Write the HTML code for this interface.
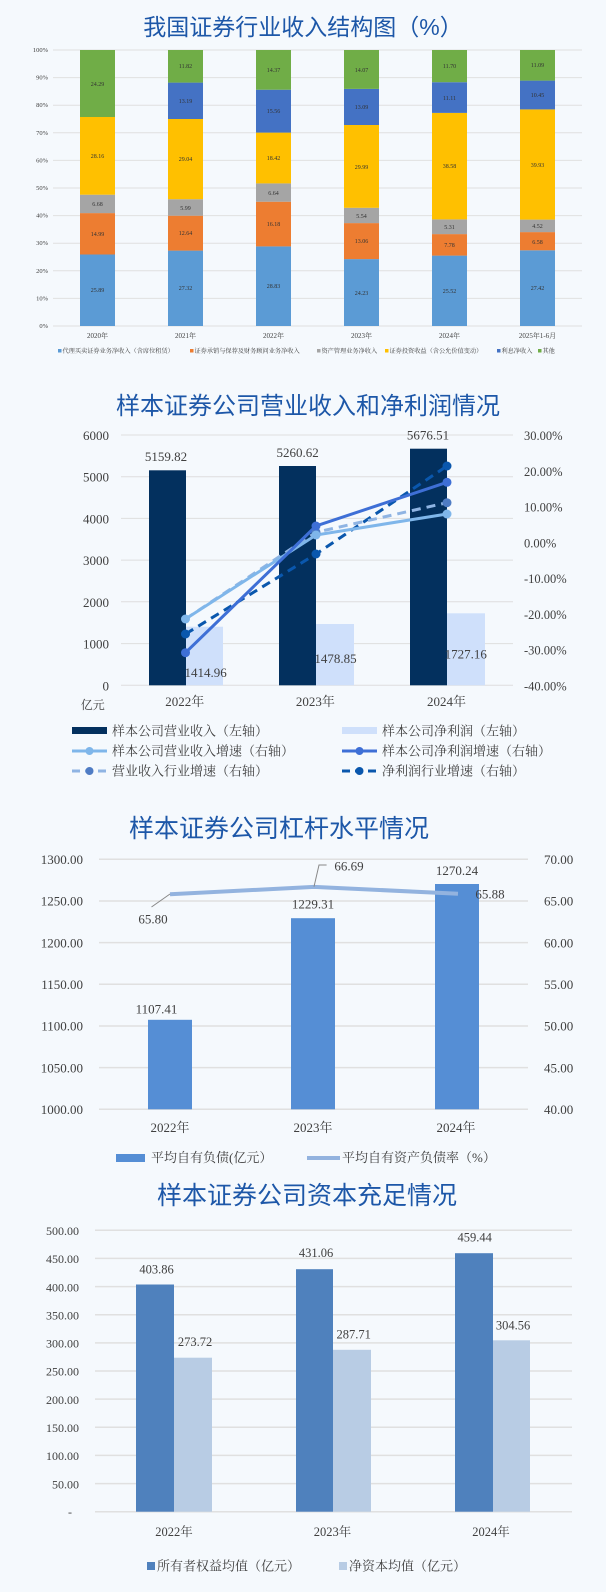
<!DOCTYPE html>
<html><head><meta charset="utf-8"><style>
html,body{margin:0;padding:0;background:#f5f9fd;}
svg{display:block;}
.t{font-family:"Liberation Sans","Noto Sans CJK SC",sans-serif;fill:#1d57a8;}
.n{font-family:"Liberation Serif","Noto Serif CJK SC",serif;fill:#404040;}
.s{font-family:"Liberation Serif","Noto Serif CJK SC",serif;fill:#333;font-size:6px;text-anchor:middle;}
</style></head><body>
<svg width="606" height="1592" viewBox="0 0 606 1592" xmlns="http://www.w3.org/2000/svg">
<rect width="606" height="1592" fill="#f5f9fd"/>
<!-- Chart 1 -->
<text class="t" x="303" y="35" font-size="23" text-anchor="middle">我国证券行业收入结构图（%）</text>
<g stroke="#e0e0e0" stroke-width="1">
<line x1="53" y1="326" x2="582" y2="326"/><line x1="53" y1="298.4" x2="582" y2="298.4"/><line x1="53" y1="270.8" x2="582" y2="270.8"/><line x1="53" y1="243.2" x2="582" y2="243.2"/><line x1="53" y1="215.6" x2="582" y2="215.6"/><line x1="53" y1="188" x2="582" y2="188"/><line x1="53" y1="160.4" x2="582" y2="160.4"/><line x1="53" y1="132.8" x2="582" y2="132.8"/><line x1="53" y1="105.2" x2="582" y2="105.2"/><line x1="53" y1="77.6" x2="582" y2="77.6"/><line x1="53" y1="50" x2="582" y2="50"/>
</g>
<g class="n" font-size="6.5" text-anchor="end">
<text x="48" y="328">0%</text><text x="48" y="300.4">10%</text><text x="48" y="272.8">20%</text><text x="48" y="245.2">30%</text><text x="48" y="217.6">40%</text><text x="48" y="190">50%</text><text x="48" y="162.4">60%</text><text x="48" y="134.8">70%</text><text x="48" y="107.2">80%</text><text x="48" y="79.6">90%</text><text x="48" y="52">100%</text>
</g>
<g>
<rect x="80" y="254.5" width="35" height="71.5" fill="#5b9bd5"/><rect x="80" y="213.1" width="35" height="41.4" fill="#ed7d31"/><rect x="80" y="194.7" width="35" height="18.4" fill="#a5a5a5"/><rect x="80" y="117" width="35" height="77.7" fill="#ffc000"/><rect x="80" y="50" width="35" height="67" fill="#70ad47"/>
<rect x="168" y="250.6" width="35" height="75.4" fill="#5b9bd5"/><rect x="168" y="215.7" width="35" height="34.9" fill="#ed7d31"/><rect x="168" y="199.2" width="35" height="16.5" fill="#a5a5a5"/><rect x="168" y="119" width="35" height="80.2" fill="#ffc000"/><rect x="168" y="82.6" width="35" height="36.4" fill="#4472c4"/><rect x="168" y="50" width="35" height="32.6" fill="#70ad47"/>
<rect x="256" y="246.4" width="35" height="79.6" fill="#5b9bd5"/><rect x="256" y="201.7" width="35" height="44.7" fill="#ed7d31"/><rect x="256" y="183.4" width="35" height="18.3" fill="#a5a5a5"/><rect x="256" y="132.6" width="35" height="50.8" fill="#ffc000"/><rect x="256" y="89.7" width="35" height="42.9" fill="#4472c4"/><rect x="256" y="50" width="35" height="39.7" fill="#70ad47"/>
<rect x="344" y="259.1" width="35" height="66.9" fill="#5b9bd5"/><rect x="344" y="223.1" width="35" height="36" fill="#ed7d31"/><rect x="344" y="207.8" width="35" height="15.3" fill="#a5a5a5"/><rect x="344" y="125" width="35" height="82.8" fill="#ffc000"/><rect x="344" y="88.9" width="35" height="36.1" fill="#4472c4"/><rect x="344" y="50" width="35" height="38.9" fill="#70ad47"/>
<rect x="432" y="255.6" width="35" height="70.4" fill="#5b9bd5"/><rect x="432" y="234.1" width="35" height="21.5" fill="#ed7d31"/><rect x="432" y="219.4" width="35" height="14.7" fill="#a5a5a5"/><rect x="432" y="112.9" width="35" height="106.5" fill="#ffc000"/><rect x="432" y="82.2" width="35" height="30.7" fill="#4472c4"/><rect x="432" y="50" width="35" height="32.2" fill="#70ad47"/>
<rect x="520" y="250.3" width="35" height="75.7" fill="#5b9bd5"/><rect x="520" y="232.1" width="35" height="18.2" fill="#ed7d31"/><rect x="520" y="219.6" width="35" height="12.5" fill="#a5a5a5"/><rect x="520" y="109.4" width="35" height="110.2" fill="#ffc000"/><rect x="520" y="80.6" width="35" height="28.8" fill="#4472c4"/><rect x="520" y="50" width="35" height="30.6" fill="#70ad47"/>
</g>
<g class="s">
<text x="97.5" y="292">25.89</text><text x="97.5" y="236">14.99</text><text x="97.5" y="206">6.68</text><text x="97.5" y="158">28.16</text><text x="97.5" y="86">24.29</text>
<text x="185.5" y="290">27.32</text><text x="185.5" y="235">12.64</text><text x="185.5" y="210">5.99</text><text x="185.5" y="161">29.04</text><text x="185.5" y="103">13.19</text><text x="185.5" y="68">11.82</text>
<text x="273.5" y="288">28.83</text><text x="273.5" y="226">16.18</text><text x="273.5" y="195">6.64</text><text x="273.5" y="160">18.42</text><text x="273.5" y="113">15.56</text><text x="273.5" y="72">14.37</text>
<text x="361.5" y="295">24.23</text><text x="361.5" y="243">13.06</text><text x="361.5" y="218">5.54</text><text x="361.5" y="169">29.99</text><text x="361.5" y="109">13.09</text><text x="361.5" y="72">14.07</text>
<text x="449.5" y="293">25.52</text><text x="449.5" y="247">7.78</text><text x="449.5" y="229">5.31</text><text x="449.5" y="168">38.58</text><text x="449.5" y="100">11.11</text><text x="449.5" y="68">11.70</text>
<text x="537.5" y="290">27.42</text><text x="537.5" y="244">6.58</text><text x="537.5" y="228">4.52</text><text x="537.5" y="167">39.93</text><text x="537.5" y="97">10.45</text><text x="537.5" y="67">11.09</text>
</g>
<g class="n" font-size="7" text-anchor="middle">
<text x="97.5" y="338">2020年</text><text x="185.5" y="338">2021年</text><text x="273.5" y="338">2022年</text><text x="361.5" y="338">2023年</text><text x="449.5" y="338">2024年</text><text x="537.5" y="338">2025年1-6月</text>
</g>
<g class="n" font-size="6.2">
<rect x="58" y="349" width="3.5" height="3.5" fill="#5b9bd5"/><text x="62.5" y="353">代理买卖证券业务净收入（含席位租赁）</text>
<rect x="190" y="349" width="3.5" height="3.5" fill="#ed7d31"/><text x="194.5" y="353">证券承销与保荐及财务顾问业务净收入</text>
<rect x="317" y="349" width="3.5" height="3.5" fill="#a5a5a5"/><text x="321.5" y="353">资产管理业务净收入</text>
<rect x="385" y="349" width="3.5" height="3.5" fill="#ffc000"/><text x="389.5" y="353">证券投资收益（含公允价值变动）</text>
<rect x="497" y="349" width="3.5" height="3.5" fill="#4472c4"/><text x="501.5" y="353">利息净收入</text>
<rect x="538" y="349" width="3.5" height="3.5" fill="#70ad47"/><text x="542.5" y="353">其他</text>
</g>

<!-- Chart 2 -->
<text class="t" x="308" y="414" font-size="24" text-anchor="middle">样本证券公司营业收入和净利润情况</text>
<g stroke="#dedede" stroke-width="1">
<line x1="121" y1="435" x2="513" y2="435"/><line x1="121" y1="476.7" x2="513" y2="476.7"/><line x1="121" y1="518.4" x2="513" y2="518.4"/><line x1="121" y1="560.1" x2="513" y2="560.1"/><line x1="121" y1="601.8" x2="513" y2="601.8"/><line x1="121" y1="643.6" x2="513" y2="643.6"/><line x1="121" y1="685.3" x2="513" y2="685.3"/>
</g>
<g class="n" font-size="13" text-anchor="end">
<text x="109" y="440">6000</text><text x="109" y="481.7">5000</text><text x="109" y="523.4">4000</text><text x="109" y="565.1">3000</text><text x="109" y="606.8">2000</text><text x="109" y="648.6">1000</text><text x="109" y="690.3">0</text>
</g>
<g class="n" font-size="12.5">
<text x="524" y="440">30.00%</text><text x="524" y="475.8">20.00%</text><text x="524" y="511.5">10.00%</text><text x="524" y="547.3">0.00%</text><text x="524" y="583">-10.00%</text><text x="524" y="618.8">-20.00%</text><text x="524" y="654.5">-30.00%</text><text x="524" y="690.3">-40.00%</text>
</g>
<rect x="149" y="470.3" width="37" height="215" fill="#03305e"/>
<rect x="186" y="626.7" width="37" height="58.6" fill="#cfe0fb"/>
<rect x="279" y="466" width="37" height="219.3" fill="#03305e"/>
<rect x="316" y="624" width="38" height="61.3" fill="#cfe0fb"/>
<rect x="410" y="448.7" width="37" height="236.6" fill="#03305e"/>
<rect x="447" y="613.3" width="38" height="72" fill="#cfe0fb"/>
<g fill="none" stroke-width="3">
<polyline points="185.5,634 316,554 447,466" stroke="#0a57ad" stroke-dasharray="9,6"/>
<polyline points="185.5,619 316,532.3 447,502.7" stroke="#8fb4e3" stroke-dasharray="9,6"/>
<polyline points="185.5,619 316,535 447,514" stroke="#7fb6ea"/>
<polyline points="185.5,652.7 316,526 447,482.3" stroke="#3e6fd6"/>
</g>
<g fill="#0a57ad"><circle cx="185.5" cy="634" r="4.5"/><circle cx="316" cy="554" r="4.5"/><circle cx="447" cy="466" r="4.5"/></g>
<g fill="#4f7cc4"><circle cx="316" cy="532.3" r="4.5"/><circle cx="447" cy="502.7" r="4.5"/></g>
<g fill="#7fb6ea"><circle cx="185.5" cy="619" r="4.5"/><circle cx="316" cy="535" r="4.5"/><circle cx="447" cy="514" r="4.5"/></g>
<g fill="#3e6fd6"><circle cx="185.5" cy="652.7" r="4.5"/><circle cx="316" cy="526" r="4.5"/><circle cx="447" cy="482.3" r="4.5"/></g>
<g class="n" font-size="13" text-anchor="middle" fill="#222">
<text x="166" y="461">5159.82</text><text x="297.6" y="457">5260.62</text><text x="428" y="439.5">5676.51</text>
<text x="205.6" y="677">1414.96</text><text x="335.5" y="663">1478.85</text><text x="465.8" y="658.5">1727.16</text>
<text x="184.8" y="706">2022年</text><text x="315.4" y="706">2023年</text><text x="446.5" y="706">2024年</text>
</g>
<text class="n" x="92.8" y="709" font-size="12" text-anchor="middle">亿元</text>
<g class="n" font-size="13">
<rect x="72" y="727" width="35" height="7" fill="#03305e"/><text x="112" y="735.5">样本公司营业收入（左轴）</text>
<rect x="342" y="727" width="35" height="7" fill="#cfe0fb"/><text x="382" y="735.5">样本公司净利润（左轴）</text>
<line x1="72" y1="751" x2="107" y2="751" stroke="#7fb6ea" stroke-width="3"/><circle cx="89.5" cy="751" r="4" fill="#7fb6ea"/><text x="112" y="755.5">样本公司营业收入增速（右轴）</text>
<line x1="342" y1="751" x2="377" y2="751" stroke="#3e6fd6" stroke-width="3"/><circle cx="359.5" cy="751" r="4" fill="#3e6fd6"/><text x="382" y="755.5">样本公司净利润增速（右轴）</text>
<line x1="72" y1="771" x2="107" y2="771" stroke="#8fb4e3" stroke-width="3" stroke-dasharray="8,5"/><circle cx="89.5" cy="771" r="4" fill="#4f7cc4"/><text x="112" y="775.5">营业收入行业增速（右轴）</text>
<line x1="342" y1="771" x2="377" y2="771" stroke="#0a57ad" stroke-width="3" stroke-dasharray="8,5"/><circle cx="359.5" cy="771" r="4" fill="#0a57ad"/><text x="382" y="775.5">净利润行业增速（右轴）</text>
</g>

<!-- Chart 3 -->
<text class="t" x="279" y="837" font-size="25" text-anchor="middle">样本证券公司杠杆水平情况</text>
<g stroke="#e0e0e0" stroke-width="1.5">
<line x1="99" y1="859.3" x2="528" y2="859.3"/><line x1="99" y1="901" x2="528" y2="901"/><line x1="99" y1="942.6" x2="528" y2="942.6"/><line x1="99" y1="984.3" x2="528" y2="984.3"/><line x1="99" y1="1026" x2="528" y2="1026"/><line x1="99" y1="1067.6" x2="528" y2="1067.6"/><line x1="99" y1="1109.3" x2="528" y2="1109.3"/>
</g>
<g class="n" font-size="13" text-anchor="end">
<text x="83" y="864">1300.00</text><text x="83" y="905.7">1250.00</text><text x="83" y="947.3">1200.00</text><text x="83" y="989">1150.00</text><text x="83" y="1030.7">1100.00</text><text x="83" y="1072.3">1050.00</text><text x="83" y="1114">1000.00</text>
</g>
<g class="n" font-size="13">
<text x="544" y="864">70.00</text><text x="544" y="905.7">65.00</text><text x="544" y="947.3">60.00</text><text x="544" y="989">55.00</text><text x="544" y="1030.7">50.00</text><text x="544" y="1072.3">45.00</text><text x="544" y="1114">40.00</text>
</g>
<rect x="148" y="1019.8" width="44" height="89.5" fill="#558ed5"/>
<rect x="291" y="918.2" width="44" height="191.1" fill="#558ed5"/>
<rect x="435" y="884" width="44" height="225.3" fill="#558ed5"/>
<polyline points="170,894.3 314,886.9 458,893.7" fill="none" stroke="#93b3df" stroke-width="4"/>
<polyline points="151.5,907 170,894" fill="none" stroke="#888" stroke-width="1"/>
<polyline points="314,886.7 319,865 326.6,865" fill="none" stroke="#888" stroke-width="1"/>
<g class="n" font-size="13" text-anchor="middle" fill="#333">
<text x="153" y="923.5">65.80</text><text x="349" y="870.5">66.69</text><text x="457" y="875">1270.24</text><text x="490" y="898.5">65.88</text><text x="313" y="908.5">1229.31</text><text x="156.5" y="1013.5">1107.41</text>
<text x="170" y="1132">2022年</text><text x="313" y="1132">2023年</text><text x="456" y="1132">2024年</text>
</g>
<g class="n" font-size="13">
<rect x="116" y="1154" width="29" height="8" fill="#558ed5"/><text x="151" y="1162">平均自有负债(亿元）</text>
<line x1="307" y1="1158" x2="340" y2="1158" stroke="#93b3df" stroke-width="4"/><text x="342" y="1162">平均自有资产负债率（%）</text>
</g>

<!-- Chart 4 -->
<text class="t" x="307" y="1204" font-size="25" text-anchor="middle">样本证券公司资本充足情况</text>
<g stroke="#e0e0e0" stroke-width="1.5">
<line x1="95" y1="1230.3" x2="572" y2="1230.3"/><line x1="95" y1="1258.4" x2="572" y2="1258.4"/><line x1="95" y1="1286.6" x2="572" y2="1286.6"/><line x1="95" y1="1314.7" x2="572" y2="1314.7"/><line x1="95" y1="1342.9" x2="572" y2="1342.9"/><line x1="95" y1="1371" x2="572" y2="1371"/><line x1="95" y1="1399.1" x2="572" y2="1399.1"/><line x1="95" y1="1427.3" x2="572" y2="1427.3"/><line x1="95" y1="1455.4" x2="572" y2="1455.4"/><line x1="95" y1="1483.6" x2="572" y2="1483.6"/><line x1="95" y1="1511.7" x2="572" y2="1511.7"/>
</g>
<g class="n" font-size="12" text-anchor="end">
<text x="79" y="1235">500.00</text><text x="79" y="1263.1">450.00</text><text x="79" y="1291.3">400.00</text><text x="79" y="1319.4">350.00</text><text x="79" y="1347.6">300.00</text><text x="79" y="1375.7">250.00</text><text x="79" y="1403.8">200.00</text><text x="79" y="1432">150.00</text><text x="79" y="1460.1">100.00</text><text x="79" y="1488.3">50.00</text><text x="72" y="1516">-</text>
</g>
<rect x="136" y="1284.5" width="38" height="227.2" fill="#4f81bd"/>
<rect x="174" y="1357.7" width="38" height="154" fill="#b8cce4"/>
<rect x="296" y="1269.2" width="37" height="242.5" fill="#4f81bd"/>
<rect x="333" y="1349.8" width="38" height="161.9" fill="#b8cce4"/>
<rect x="455" y="1253.2" width="38" height="258.5" fill="#4f81bd"/>
<rect x="493" y="1340.3" width="37" height="171.4" fill="#b8cce4"/>
<g class="n" font-size="12.5" text-anchor="middle" fill="#333">
<text x="156.5" y="1273.5">403.86</text><text x="195" y="1346">273.72</text><text x="316" y="1257">431.06</text><text x="353.7" y="1338.5">287.71</text><text x="474.7" y="1241.5">459.44</text><text x="513" y="1329.5">304.56</text>
<text x="174" y="1536">2022年</text><text x="332.5" y="1536">2023年</text><text x="491" y="1536">2024年</text>
</g>
<g class="n" font-size="13">
<rect x="147" y="1562" width="8" height="8" fill="#4f81bd"/><text x="157" y="1570.5">所有者权益均值（亿元）</text>
<rect x="339" y="1562" width="8" height="8" fill="#b8cce4"/><text x="349" y="1570.5">净资本均值（亿元）</text>
</g>
</svg>
</body></html>
